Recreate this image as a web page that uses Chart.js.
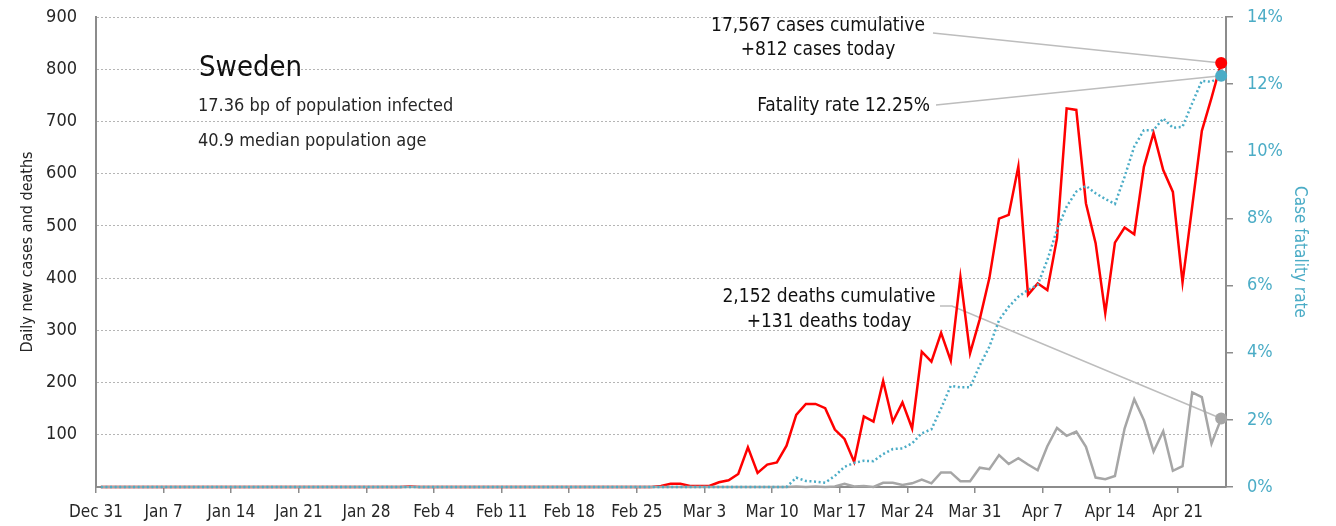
<!DOCTYPE html>
<html>
<head>
<meta charset="utf-8">
<script src="https://cdn.jsdelivr.net/npm/chart.js@4.4.1/dist/chart.umd.min.js"></script>
<style>
  html, body { margin: 0; padding: 0; background: #ffffff; }
  #wrap { width: 1336px; height: 526px; position: relative; }
</style>
</head>
<body>
<div id="wrap"><canvas id="c" width="1336" height="526"></canvas></div>
<script>
// ---------- DATA ----------
const categories = [
  'Dec 31','Jan 1','Jan 2','Jan 3','Jan 4','Jan 5','Jan 6',
  'Jan 7','Jan 8','Jan 9','Jan 10','Jan 11','Jan 12','Jan 13',
  'Jan 14','Jan 15','Jan 16','Jan 17','Jan 18','Jan 19','Jan 20',
  'Jan 21','Jan 22','Jan 23','Jan 24','Jan 25','Jan 26','Jan 27',
  'Jan 28','Jan 29','Jan 30','Jan 31','Feb 1','Feb 2','Feb 3',
  'Feb 4','Feb 5','Feb 6','Feb 7','Feb 8','Feb 9','Feb 10',
  'Feb 11','Feb 12','Feb 13','Feb 14','Feb 15','Feb 16','Feb 17',
  'Feb 18','Feb 19','Feb 20','Feb 21','Feb 22','Feb 23','Feb 24',
  'Feb 25','Feb 26','Feb 27','Feb 28','Feb 29','Mar 1','Mar 2',
  'Mar 3','Mar 4','Mar 5','Mar 6','Mar 7','Mar 8','Mar 9',
  'Mar 10','Mar 11','Mar 12','Mar 13','Mar 14','Mar 15','Mar 16',
  'Mar 17','Mar 18','Mar 19','Mar 20','Mar 21','Mar 22','Mar 23',
  'Mar 24','Mar 25','Mar 26','Mar 27','Mar 28','Mar 29','Mar 30',
  'Mar 31','Apr 1','Apr 2','Apr 3','Apr 4','Apr 5','Apr 6',
  'Apr 7','Apr 8','Apr 9','Apr 10','Apr 11','Apr 12','Apr 13',
  'Apr 14','Apr 15','Apr 16','Apr 17','Apr 18','Apr 19','Apr 20',
  'Apr 21','Apr 22','Apr 23','Apr 24','Apr 25'
];

// Daily new cases (left axis)
const cases = [
  0,0,0,0,0,0,0,
  0,0,0,0,0,0,0,
  0,0,0,0,0,0,0,
  0,0,0,0,0,0,0,
  0,0,0,0,1,0,0,
  0,0,0,0,0,0,0,
  0,0,0,0,0,0,0,
  0,0,0,0,0,0,0,
  0,0,2,6,6,2,2,
  2,9,13,25,76,27,43,
  47,79,138,159,159,151,110,
  92,48,135,125,203,125,162,
  112,259,240,295,242,402,256,
  321,400,514,521,614,368,390,
  377,476,725,722,543,467,333,
  468,497,484,613,678,607,565,
  392,537,682,745,812
];

// Daily new deaths (left axis)
const deaths = [
  0,0,0,0,0,0,0,
  0,0,0,0,0,0,0,
  0,0,0,0,0,0,0,
  0,0,0,0,0,0,0,
  0,0,0,0,0,0,0,
  0,0,0,0,0,0,0,
  0,0,0,0,0,0,0,
  0,0,0,0,0,0,0,
  0,0,0,0,0,0,0,
  0,0,0,0,0,0,0,
  0,0,1,0,1,0,1,
  6,1,2,0,8,8,4,
  7,14,7,28,28,11,11,
  37,34,61,44,55,43,32,
  78,113,98,106,77,18,15,
  21,112,168,128,68,107,31,
  40,181,172,83,131
];

// Case fatality rate, % (right axis)
const fatalityRate = [
  0,0,0,0,0,0,0,
  0,0,0,0,0,0,0,
  0,0,0,0,0,0,0,
  0,0,0,0,0,0,0,
  0,0,0,0,0,0,0,
  0,0,0,0,0,0,0,
  0,0,0,0,0,0,0,
  0,0,0,0,0,0,0,
  0,0,0,0,0,0,0,
  0,0,0,0,0,0,0,
  0,0,0.28,0.18,0.16,0.13,0.33,
  0.60,0.72,0.78,0.77,0.98,1.13,1.15,
  1.30,1.60,1.72,2.34,3.01,2.97,2.97,
  3.62,4.18,4.97,5.37,5.67,5.87,6.02,
  6.76,7.66,8.35,8.80,8.97,8.75,8.58,
  8.43,9.24,10.14,10.63,10.63,10.98,10.70,
  10.73,11.43,12.10,12.07,12.25
];

const tickLabels = ['Dec 31','Jan 7','Jan 14','Jan 21','Jan 28','Feb 4','Feb 11','Feb 18',
  'Feb 25','Mar 3','Mar 10','Mar 17','Mar 24','Mar 31','Apr 7','Apr 14','Apr 21'];
const tickEvery = 7;

const leftTicks = [0,100,200,300,400,500,600,700,800,900];
const rightTicks = [0,2,4,6,8,10,12,14];

const titleText = 'Sweden';
const infoLines = ['17.36 bp of population infected', '40.9 median population age'];
const casesNote = ['17,567 cases cumulative', '+812 cases today'];
const rateNote = 'Fatality rate 12.25%';
const deathsNote = ['2,152 deaths cumulative', '+131 deaths today'];

// ---------- STYLE ----------
const FONT = '"DejaVu Sans Condensed", "DejaVu Sans", sans-serif';
const RED = '#ff0000';
const GRAY = '#a6a6a6';
const BLUE = '#4bacc6';
const AXIS = '#8c8c8c';
const TEXT = '#262626';
const LEADER = '#bdbdbd';

const lastIdx = categories.length - 1;
const endDot = (r) => (ctx) => ctx.dataIndex === lastIdx ? r : 0;

const notesPlugin = {
  id: 'notes',
  beforeDatasetsDraw(chart) {
    const {ctx, scales} = chart;
    const x = scales.x, y = scales.y, y1 = scales.y1;
    const px = x.getPixelForValue(lastIdx);
    const pc = y.getPixelForValue(cases[lastIdx]);
    const pd = y.getPixelForValue(deaths[lastIdx]);
    const pr = y1.getPixelForValue(fatalityRate[lastIdx]);
    ctx.save();
    ctx.strokeStyle = LEADER;
    ctx.lineWidth = 1.6;
    ctx.beginPath();
    ctx.moveTo(933, 33); ctx.lineTo(px, pc);
    ctx.moveTo(936, 105); ctx.lineTo(px, pr);
    ctx.moveTo(940, 306); ctx.lineTo(952, 306); ctx.lineTo(px, pd);
    ctx.stroke();
    ctx.restore();
  },
  afterDraw(chart) {
    const {ctx} = chart;
    ctx.save();
    ctx.fillStyle = '#111111';
    ctx.textBaseline = 'alphabetic';
    ctx.textAlign = 'left';
    ctx.font = '29px ' + FONT;
    ctx.fillText(titleText, 199, 76);
    ctx.font = '18px ' + FONT;
    ctx.fillStyle = TEXT;
    ctx.fillText(infoLines[0], 198, 110.5);
    ctx.fillText(infoLines[1], 198, 145.5);

    ctx.font = '19px ' + FONT;
    ctx.fillStyle = '#111111';
    ctx.textAlign = 'center';
    ctx.fillText(casesNote[0], 818, 31);
    ctx.fillText(casesNote[1], 818, 55);
    ctx.fillText(deathsNote[0], 829, 302);
    ctx.fillText(deathsNote[1], 829, 327);
    ctx.textAlign = 'right';
    ctx.fillText(rateNote, 930, 111);
    ctx.restore();
  }
};

const chart = new Chart(document.getElementById('c'), {
  type: 'line',
  data: {
    labels: categories,
    datasets: [
      {
        label: 'Case fatality rate',
        data: fatalityRate,
        yAxisID: 'y1',
        borderColor: BLUE,
        borderWidth: 2.5,
        borderDash: [2, 2.6],
        borderCapStyle: 'butt',
        pointRadius: endDot(6),
        pointBackgroundColor: BLUE,
        pointBorderWidth: 0,
        pointHoverRadius: 0,
        tension: 0,
        clip: 8,
        order: 1
      },
      {
        label: 'Daily new deaths',
        data: deaths,
        yAxisID: 'y',
        borderColor: GRAY,
        borderWidth: 2.5,
        pointRadius: endDot(6),
        pointBackgroundColor: GRAY,
        pointBorderWidth: 0,
        pointHoverRadius: 0,
        tension: 0,
        clip: 8,
        order: 2
      },
      {
        label: 'Daily new cases',
        data: cases,
        yAxisID: 'y',
        borderColor: RED,
        borderWidth: 2.5,
        pointRadius: endDot(6),
        pointBackgroundColor: RED,
        pointBorderWidth: 0,
        pointHoverRadius: 0,
        tension: 0,
        clip: 8,
        order: 3
      }
    ]
  },
  options: {
    responsive: false,
    animation: false,
    devicePixelRatio: 1,
    layout: { padding: { top: 17, left: 0, right: 0, bottom: 0 } },
    plugins: { legend: { display: false }, tooltip: { enabled: false } },
    scales: {
      x: {
        type: 'category',
        offset: true,
        grid: {
          offset: true,
          drawOnChartArea: false,
          drawTicks: true,
          tickLength: 6,
          lineWidth: 1.5,
          color: (c) => (typeof c.index === 'number' && c.index % tickEvery === 0) ? AXIS : 'rgba(0,0,0,0)'
        },
        border: { display: true, color: AXIS, width: 2 },
        ticks: {
          autoSkip: false,
          maxRotation: 0,
          minRotation: 0,
          padding: 9,
          labelOffset: -4.83,
          color: TEXT,
          font: { family: FONT, size: 17, lineHeight: 1.2 },
          callback: (v, i) => (i % tickEvery === 0) ? tickLabels[i / tickEvery] : ''
        },
        afterFit: (s) => { s.height = 39; s.paddingLeft = 0; s.paddingRight = 0; }
      },
      y: {
        position: 'left',
        min: 0,
        max: 900,
        afterBuildTicks: (s) => { s.ticks = leftTicks.map(v => ({ value: v })); },
        grid: {
          drawTicks: false,
          color: (c) => (c.tick && c.tick.value === 0) ? 'rgba(0,0,0,0)' : '#b5b5b5',
          lineWidth: 1
        },
        border: { display: true, color: AXIS, width: 2, dash: [2, 2] },
        ticks: {
          padding: 19,
          color: TEXT,
          font: { family: FONT, size: 18, lineHeight: 1.2 },
          callback: (v) => v === 0 ? '' : String(v)
        },
        title: {
          display: true,
          text: 'Daily new cases and deaths',
          color: TEXT,
          font: { family: FONT, size: 16, lineHeight: 1.2 },
          padding: { top: 18, bottom: 0 }
        },
        afterFit: (s) => { s.width = 96; s.paddingTop = 0; s.paddingBottom = 0; }
      },
      y1: {
        position: 'right',
        min: 0,
        max: 14,
        afterBuildTicks: (s) => { s.ticks = rightTicks.map(v => ({ value: v })); },
        grid: {
          drawOnChartArea: false,
          drawTicks: true,
          tickLength: 7,
          color: AXIS,
          lineWidth: 1.5
        },
        border: { display: true, color: AXIS, width: 2 },
        ticks: {
          padding: 14,
          color: BLUE,
          font: { family: FONT, size: 18, lineHeight: 1.2 },
          callback: (v) => v + '%'
        },
        title: {
          display: true,
          text: 'Case fatality rate',
          color: BLUE,
          font: { family: FONT, size: 17, lineHeight: 1.2 },
          padding: { top: 26, bottom: 0 }
        },
        afterFit: (s) => { s.width = 110; s.paddingTop = 0; s.paddingBottom = 0; }
      }
    }
  },
  plugins: [notesPlugin]
});
</script>
</body>
</html>
